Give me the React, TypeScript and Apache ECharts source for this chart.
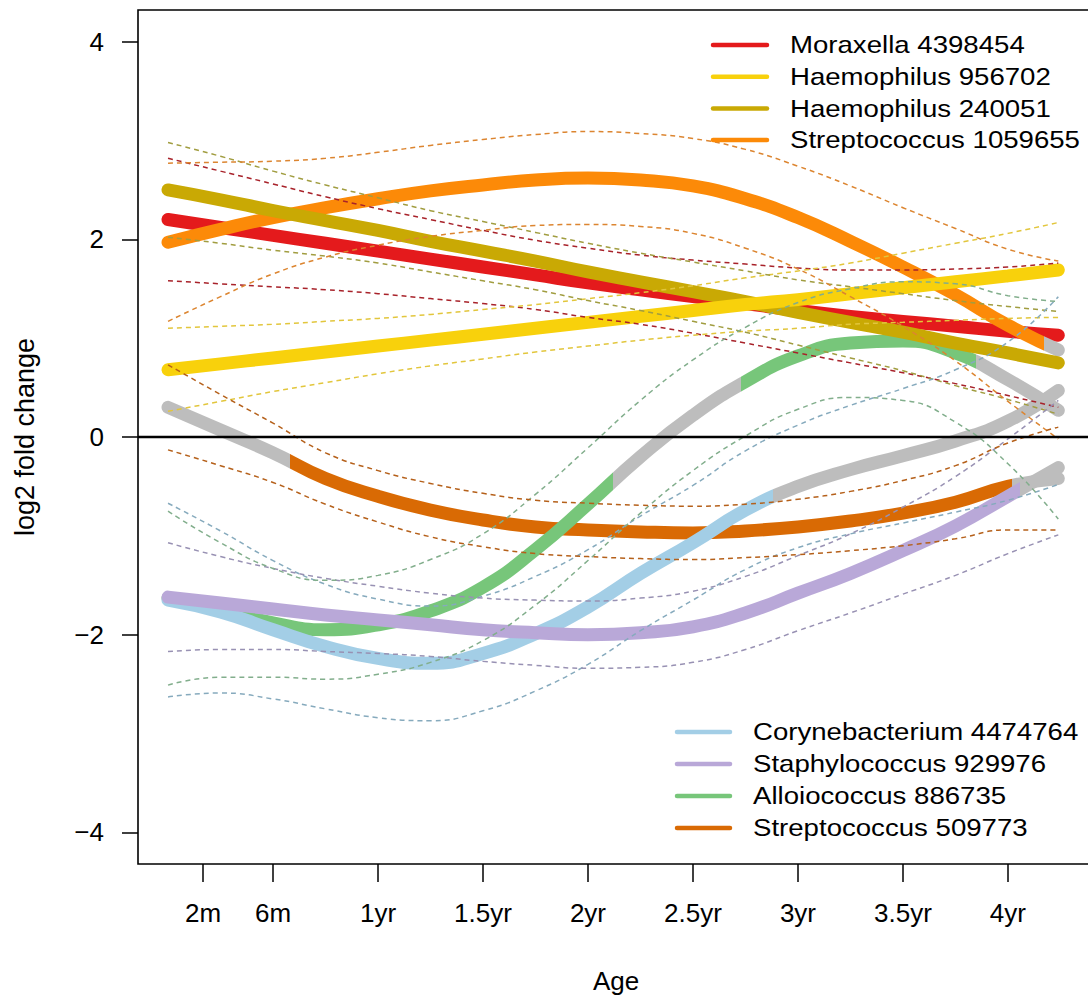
import React, { useEffect, useRef } from "react";
import * as echarts from "echarts";

const FONT = '"Liberation Sans", Arial, Helvetica, sans-serif';

// Sampling ages (years) of the smoothed trajectories
const ages = [0, 0.25, 0.5, 0.75, 1, 1.25, 1.5, 1.75, 2, 2.25, 2.5, 2.75, 3, 3.25, 3.5, 3.75, 4, 4.24];

// Axis ticks
const ageTicks = [0.1667, 0.5, 1, 1.5, 2, 2.5, 3, 3.5, 4];
const ageTickLabels = ["2m", "6m", "1yr", "1.5yr", "2yr", "2.5yr", "3yr", "3.5yr", "4yr"];
const foldTicks = [-4, -2, 0, 2, 4];

const taxonNames = [
  "Moraxella 4398454",
  "Haemophilus 956702",
  "Haemophilus 240051",
  "Streptococcus 1059655",
  "Corynebacterium 4474764",
  "Staphylococcus 929976",
  "Alloiococcus 886735",
  "Streptococcus 509773",
];

// log2 fold change: fitted curve and confidence bounds
const moraxellaFit = [2.2, 2.12, 2.04, 1.96, 1.88, 1.8, 1.72, 1.64, 1.56, 1.49, 1.42, 1.35, 1.28, 1.22, 1.17, 1.12, 1.07, 1.03];
const moraxellaUpper = [2.82, 2.69, 2.56, 2.43, 2.31, 2.2, 2.09, 1.99, 1.91, 1.84, 1.79, 1.75, 1.71, 1.69, 1.69, 1.7, 1.72, 1.76];
const moraxellaLower = [1.58, 1.55, 1.52, 1.49, 1.45, 1.4, 1.35, 1.29, 1.21, 1.14, 1.05, 0.95, 0.85, 0.75, 0.65, 0.54, 0.42, 0.3];

const haemo956702Fit = [0.68, 0.74, 0.8, 0.86, 0.92, 0.98, 1.04, 1.1, 1.16, 1.22, 1.28, 1.34, 1.39, 1.45, 1.51, 1.57, 1.63, 1.69];
const haemo956702Upper = [1.1, 1.12, 1.14, 1.17, 1.2, 1.24, 1.29, 1.34, 1.4, 1.46, 1.53, 1.61, 1.68, 1.76, 1.86, 1.96, 2.06, 2.17];
const haemo956702Lower = [0.26, 0.36, 0.46, 0.55, 0.64, 0.72, 0.79, 0.86, 0.92, 0.98, 1.03, 1.07, 1.1, 1.14, 1.16, 1.18, 1.2, 1.21];

const haemo240051Fit = [2.5, 2.4, 2.29, 2.19, 2.09, 1.98, 1.88, 1.78, 1.67, 1.57, 1.47, 1.37, 1.26, 1.16, 1.06, 0.95, 0.85, 0.75];
const haemo240051Upper = [2.98, 2.84, 2.69, 2.55, 2.42, 2.29, 2.18, 2.07, 1.96, 1.86, 1.77, 1.68, 1.59, 1.52, 1.45, 1.38, 1.32, 1.27];
const haemo240051Lower = [2.02, 1.96, 1.89, 1.83, 1.76, 1.67, 1.58, 1.49, 1.38, 1.28, 1.17, 1.06, 0.93, 0.8, 0.67, 0.52, 0.38, 0.23];

const strep1059655Fit = [1.97, 2.1, 2.22, 2.32, 2.41, 2.49, 2.55, 2.6, 2.62, 2.6, 2.54, 2.41, 2.22, 1.98, 1.72, 1.44, 1.13, 0.88];
const strep1059655Upper = [2.77, 2.78, 2.79, 2.82, 2.88, 2.95, 3.01, 3.06, 3.09, 3.07, 3.02, 2.91, 2.74, 2.54, 2.32, 2.11, 1.9, 1.78];
const strep1059655Lower = [1.17, 1.42, 1.65, 1.82, 1.94, 2.03, 2.09, 2.14, 2.15, 2.13, 2.06, 1.91, 1.7, 1.42, 1.12, 0.77, 0.36, -0.02];

const coryneFit = [-1.65, -1.77, -1.95, -2.12, -2.24, -2.29, -2.19, -1.99, -1.72, -1.38, -1.07, -0.74, -0.5, -0.33, -0.19, -0.04, 0.16, 0.47];
const coryneUpper = [-0.67, -0.95, -1.25, -1.49, -1.64, -1.71, -1.61, -1.41, -1.14, -0.8, -0.49, -0.14, 0.12, 0.32, 0.49, 0.68, 0.96, 1.42];
const coryneLower = [-2.63, -2.59, -2.65, -2.75, -2.84, -2.87, -2.77, -2.57, -2.3, -1.96, -1.65, -1.34, -1.12, -0.98, -0.87, -0.76, -0.64, -0.48];

const staphFit = [-1.62, -1.68, -1.74, -1.8, -1.85, -1.9, -1.95, -1.98, -2.0, -1.98, -1.92, -1.78, -1.58, -1.38, -1.15, -0.9, -0.6, -0.31];
const staphUpper = [-1.07, -1.21, -1.33, -1.43, -1.51, -1.58, -1.63, -1.65, -1.66, -1.63, -1.56, -1.41, -1.2, -0.98, -0.71, -0.4, -0.02, 0.37];
const staphLower = [-2.17, -2.15, -2.15, -2.17, -2.19, -2.22, -2.27, -2.31, -2.34, -2.33, -2.28, -2.15, -1.96, -1.78, -1.59, -1.4, -1.18, -0.99];

const allioFit = [-1.63, -1.75, -1.88, -1.95, -1.9, -1.76, -1.52, -1.14, -0.68, -0.2, 0.22, 0.56, 0.82, 0.95, 0.97, 0.85, 0.58, 0.27];
const allioUpper = [-0.75, -1.07, -1.33, -1.45, -1.4, -1.24, -0.98, -0.58, -0.11, 0.37, 0.78, 1.11, 1.36, 1.5, 1.57, 1.55, 1.43, 1.37];
const allioLower = [-2.51, -2.43, -2.43, -2.45, -2.4, -2.28, -2.06, -1.7, -1.25, -0.77, -0.34, 0.01, 0.28, 0.4, 0.37, 0.15, -0.27, -0.83];

const strep509773Fit = [0.3, 0.07, -0.16, -0.42, -0.6, -0.74, -0.84, -0.91, -0.94, -0.96, -0.97, -0.95, -0.91, -0.85, -0.77, -0.66, -0.5, -0.42];
const strep509773Upper = [0.73, 0.43, 0.14, -0.16, -0.34, -0.47, -0.57, -0.64, -0.67, -0.69, -0.7, -0.68, -0.63, -0.55, -0.44, -0.29, -0.06, 0.1];
const strep509773Lower = [-0.13, -0.29, -0.46, -0.68, -0.86, -1.01, -1.11, -1.18, -1.21, -1.23, -1.24, -1.22, -1.19, -1.15, -1.1, -1.03, -0.94, -0.94];

// Age spans (years) where the change is significant; elsewhere the curve is grey
const moraxellaSpans = [[0, 4.24]];
const haemo956702Spans = [[0, 4.24]];
const haemo240051Spans = [[0, 4.24]];
const strep1059655Spans = [[0, 4.17]];
const coryneSpans = [[0, 2.88]];
const staphSpans = [[0, 4.06]];
const allioSpans = [[0, 2.12], [2.73, 3.85]];
const strep509773Spans = [[0.58, 4.02]];

const lineColors = ["#E41A1C", "#F8D10C", "#C9A904", "#FC8A08", "#A3CEE6", "#B9A8D8", "#77C67A", "#D96A04"];
const bandColors = ["#A8222A", "#E2C63C", "#A19D40", "#DC8530", "#86AABD", "#9891B3", "#82AE8C", "#B5601A"];
const GREY = "#BDBDBD";

const taxa = [
  { fit: moraxellaFit, upper: moraxellaUpper, lower: moraxellaLower, spans: moraxellaSpans },
  { fit: haemo956702Fit, upper: haemo956702Upper, lower: haemo956702Lower, spans: haemo956702Spans },
  { fit: haemo240051Fit, upper: haemo240051Upper, lower: haemo240051Lower, spans: haemo240051Spans },
  { fit: strep1059655Fit, upper: strep1059655Upper, lower: strep1059655Lower, spans: strep1059655Spans },
  { fit: coryneFit, upper: coryneUpper, lower: coryneLower, spans: coryneSpans },
  { fit: staphFit, upper: staphUpper, lower: staphLower, spans: staphSpans },
  { fit: allioFit, upper: allioUpper, lower: allioLower, spans: allioSpans },
  { fit: strep509773Fit, upper: strep509773Upper, lower: strep509773Lower, spans: strep509773Spans },
].map((t, i) => ({ ...t, name: taxonNames[i], color: lineColors[i], band: bandColors[i] }));

// painting order of the thick curves (first = bottom)
const drawOrder = [7, 6, 4, 5, 0, 3, 2, 1];

const X_MIN = -0.143;
const X_MAX = 4.41;
const FIRST_AGE = ages[0];
const LAST_AGE = ages[ages.length - 1];

const pairs = (vals: number[]) => ages.map((a, k) => [a, vals[k]]);

function buildOption() {
  const series: any[] = [];
  const visualMap: any[] = [];

  drawOrder.forEach((ti) => {
    const t = taxa[ti];
    const full = t.spans.length === 1 && t.spans[0][0] <= FIRST_AGE && t.spans[0][1] >= LAST_AGE;
    if (!full) {
      visualMap.push({
        type: "piecewise",
        show: false,
        dimension: 0,
        seriesIndex: series.length,
        // spans touching either end of the curve also cover its round cap
        pieces: t.spans.map(([a, b]) => ({
          gte: a <= FIRST_AGE ? X_MIN : a,
          lte: b >= LAST_AGE ? X_MAX : b,
          color: t.color,
        })),
        outOfRange: { color: GREY },
      });
    }
    // stroke colour comes from the visual (solid colour or grey/colour gradient)
    series.push({
      type: "line",
      name: t.name,
      data: pairs(t.fit),
      smooth: true,
      symbol: "none",
      silent: true,
      z: 2,
      color: t.color,
      lineStyle: { width: 13, cap: "round", join: "round" },
    });
  });

  taxa.forEach((t) => {
    [t.upper, t.lower].forEach((vals) => {
      series.push({
        type: "line",
        data: pairs(vals),
        smooth: true,
        symbol: "none",
        silent: true,
        z: 3,
        lineStyle: { color: t.band, width: 1.5, type: [5, 4] },
      });
    });
  });

  // zero reference line
  series.push({
    type: "line",
    data: [[X_MIN, 0], [X_MAX, 0]],
    symbol: "none",
    silent: true,
    z: 4,
    lineStyle: { color: "#000", width: 2.5 },
  });

  const legendBlock = (idxs: number[], x1: number, x2: number, tx: number, y0: number, dy: number) =>
    idxs.flatMap((ti, r) => [
      {
        type: "line",
        z: 100,
        silent: true,
        shape: { x1, y1: y0 + r * dy, x2, y2: y0 + r * dy },
        style: { stroke: taxa[ti].color, lineWidth: 4.5, lineCap: "round" },
      },
      {
        type: "text",
        z: 100,
        silent: true,
        x: tx,
        y: y0 + r * dy,
        scaleX: 1.15,
        style: {
          text: taxa[ti].name,
          fill: "#000",
          fontSize: 24,
          fontFamily: FONT,
          verticalAlign: "middle",
          align: "left",
        },
      },
    ]);

  const tickLabel = (v: number) => {
    const k = ageTicks.findIndex((t) => Math.abs(t - v) < 1e-3);
    return k >= 0 ? ageTickLabels[k] : "";
  };

  return {
    animation: false,
    backgroundColor: "#fff",
    grid: {
      left: 138,
      right: 6,
      top: 10,
      bottom: 135,
      show: true,
      borderColor: "#000",
      borderWidth: 1.6,
      containLabel: false,
    },
    xAxis: {
      type: "value",
      min: X_MIN,
      max: X_MAX,
      splitLine: { show: false },
      axisLine: { show: false, onZero: false },
      axisTick: {
        show: true,
        customValues: ageTicks,
        length: 18,
        lineStyle: { color: "#000", width: 1.5 },
      },
      axisLabel: {
        customValues: ageTicks,
        formatter: tickLabel,
        margin: 36,
        color: "#000",
        fontSize: 26,
        fontFamily: FONT,
      },
      name: "Age",
      nameLocation: "middle",
      nameGap: 104,
      nameTextStyle: { color: "#000", fontSize: 26, fontFamily: FONT },
    },
    yAxis: {
      type: "value",
      min: -4.32,
      max: 4.32,
      splitLine: { show: false },
      axisLine: { show: false, onZero: false },
      axisTick: {
        show: true,
        customValues: foldTicks,
        length: 16,
        lineStyle: { color: "#000", width: 1.5 },
      },
      axisLabel: {
        customValues: foldTicks,
        formatter: (v: number) => (v < 0 ? "\u2212" + Math.abs(v) : String(v)),
        margin: 34,
        color: "#000",
        fontSize: 26,
        fontFamily: FONT,
      },
      name: "log2 fold change",
      nameLocation: "middle",
      nameRotate: 90,
      nameGap: 100,
      nameTextStyle: { color: "#000", fontSize: 27, fontFamily: FONT },
    },
    visualMap,
    series,
    graphic: [
      ...legendBlock([0, 1, 2, 3], 713, 767, 790, 45, 31.7),
      ...legendBlock([4, 5, 6, 7], 677, 730, 753, 732, 32),
    ],
  };
}

export default function App() {
  const ref = useRef<HTMLDivElement>(null);
  useEffect(() => {
    if (!ref.current) return;
    const chart = echarts.init(ref.current, null, { renderer: "svg" });
    chart.setOption(buildOption());
    return () => chart.dispose();
  }, []);
  return (
    <div
      style={{
        position: "fixed",
        left: 0,
        top: 0,
        width: 1088,
        height: 999,
        overflow: "hidden",
        background: "#fff",
      }}
    >
      <div ref={ref} style={{ width: 1100, height: 999 }} />
    </div>
  );
}
